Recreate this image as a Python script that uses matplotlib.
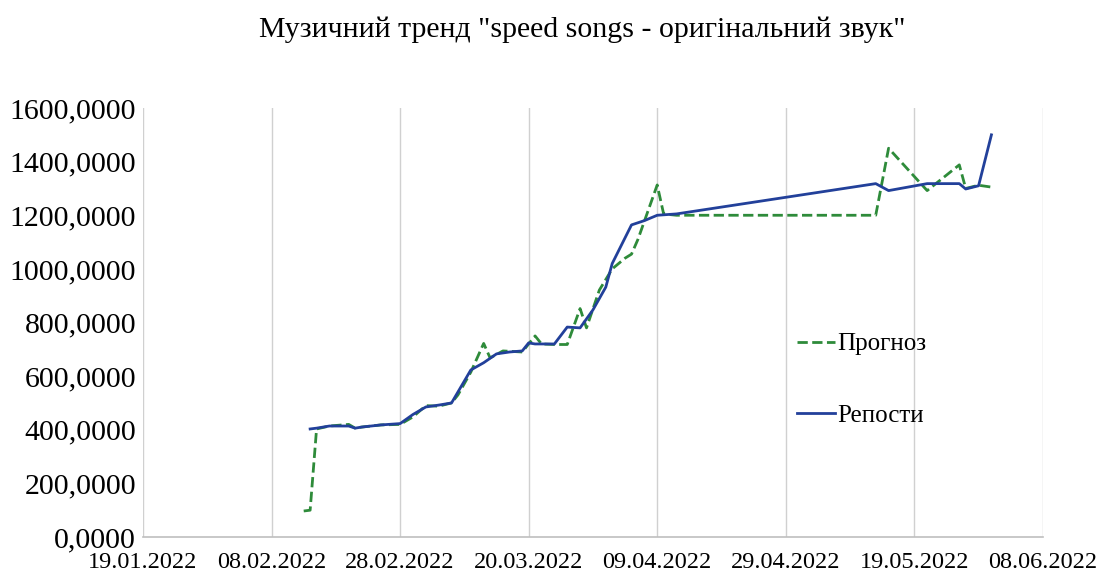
import matplotlib
matplotlib.use('Agg')
import matplotlib.pyplot as plt
import matplotlib.dates as mdates
import matplotlib.ticker as ticker
import pandas as pd

# репости по днях
repost_dates = ['2022-02-14', '2022-02-15', '2022-02-17', '2022-02-20', '2022-02-21', '2022-02-22',
                '2022-02-25', '2022-02-28', '2022-03-02', '2022-03-04', '2022-03-06', '2022-03-08',
                '2022-03-11', '2022-03-13', '2022-03-15', '2022-03-17', '2022-03-19', '2022-03-20',
                '2022-03-21', '2022-03-24', '2022-03-26', '2022-03-28', '2022-03-30', '2022-04-01',
                '2022-04-02', '2022-04-05', '2022-04-07', '2022-04-09', '2022-04-12', '2022-05-13',
                '2022-05-15', '2022-05-21', '2022-05-26', '2022-05-27', '2022-05-29', '2022-05-31']
repost_values = [403, 406, 414, 414, 406, 410,
                 418, 423, 457, 485, 492, 500,
                 623, 650, 683, 690, 694, 724,
                 720, 720, 783, 780, 847, 932,
                 1020, 1164, 1180, 1200, 1205, 1318,
                 1292, 1318, 1318, 1298, 1310, 1500]

# прогноз
forecast_dates = ['2022-02-13', '2022-02-14', '2022-02-15', '2022-02-17', '2022-02-20', '2022-02-21',
                  '2022-02-22', '2022-02-25', '2022-02-28', '2022-03-02', '2022-03-04', '2022-03-06',
                  '2022-03-08', '2022-03-09', '2022-03-11', '2022-03-13', '2022-03-14', '2022-03-16',
                  '2022-03-19', '2022-03-21', '2022-03-22', '2022-03-24', '2022-03-26', '2022-03-28',
                  '2022-03-29', '2022-03-31', '2022-04-02', '2022-04-04', '2022-04-05', '2022-04-06',
                  '2022-04-09', '2022-04-10', '2022-04-12', '2022-05-13', '2022-05-15', '2022-05-21',
                  '2022-05-26', '2022-05-27', '2022-05-29', '2022-05-31']
forecast_values = [97, 100, 403, 414, 420, 406,
                   410, 418, 420, 448, 490, 488,
                   500, 530, 615, 722, 668, 694,
                   690, 750, 720, 718, 718, 852,
                   780, 921, 1000, 1040, 1055, 1110,
                   1313, 1205, 1200, 1200, 1450, 1292,
                   1388, 1300, 1312, 1305]

tick_dates = ['2022-01-19', '2022-02-08', '2022-02-28', '2022-03-20',
              '2022-04-09', '2022-04-29', '2022-05-19', '2022-06-08']

plt.rcParams['font.family'] = ['Liberation Serif', 'DejaVu Serif']

fig = plt.figure(figsize=(10.96, 5.77), dpi=100)
ax = fig.add_axes([0.1305, 0.0693, 0.821, 0.7435])

ax.plot(pd.to_datetime(forecast_dates), forecast_values, '--', color='#2E8B3A', lw=2, label='Прогноз')
ax.plot(pd.to_datetime(repost_dates), repost_values, '-', color='#22409A', lw=2, label='Репости')

ax.set_xlim(pd.Timestamp('2022-01-19'), pd.Timestamp('2022-06-08'))
ax.set_ylim(0, 1600)
ax.set_xticks(pd.to_datetime(tick_dates))
ax.xaxis.set_major_formatter(mdates.DateFormatter('%d.%m.%Y'))
ax.yaxis.set_major_locator(ticker.MultipleLocator(200))
ax.yaxis.set_major_formatter(ticker.FuncFormatter(lambda v, pos: f'{v:.4f}'.replace('.', ',')))

# тільки вертикальна сітка
ax.grid(axis='x', color='#D0D0D0', lw=1)
ax.set_axisbelow(True)
for side in ['top', 'right', 'left']:
    ax.spines[side].set_visible(False)
ax.spines['bottom'].set_color('#BFBFBF')
ax.spines['bottom'].set_linewidth(1.2)
ax.tick_params(axis='both', length=0)
ax.tick_params(axis='x', pad=11, labelsize=17.5)
ax.tick_params(axis='y', pad=5, labelsize=21.5)

fig.suptitle('Музичний тренд "speed songs - оригінальний звук"', x=0.531, y=0.972, fontsize=21.5)

ax.legend(loc='center left', bbox_to_anchor=(0.707, 0.342), bbox_transform=fig.transFigure,
          frameon=False, fontsize=18, labelspacing=1.95, handlelength=1.5, handletextpad=0.1)

fig.savefig('out.png', dpi=100)
